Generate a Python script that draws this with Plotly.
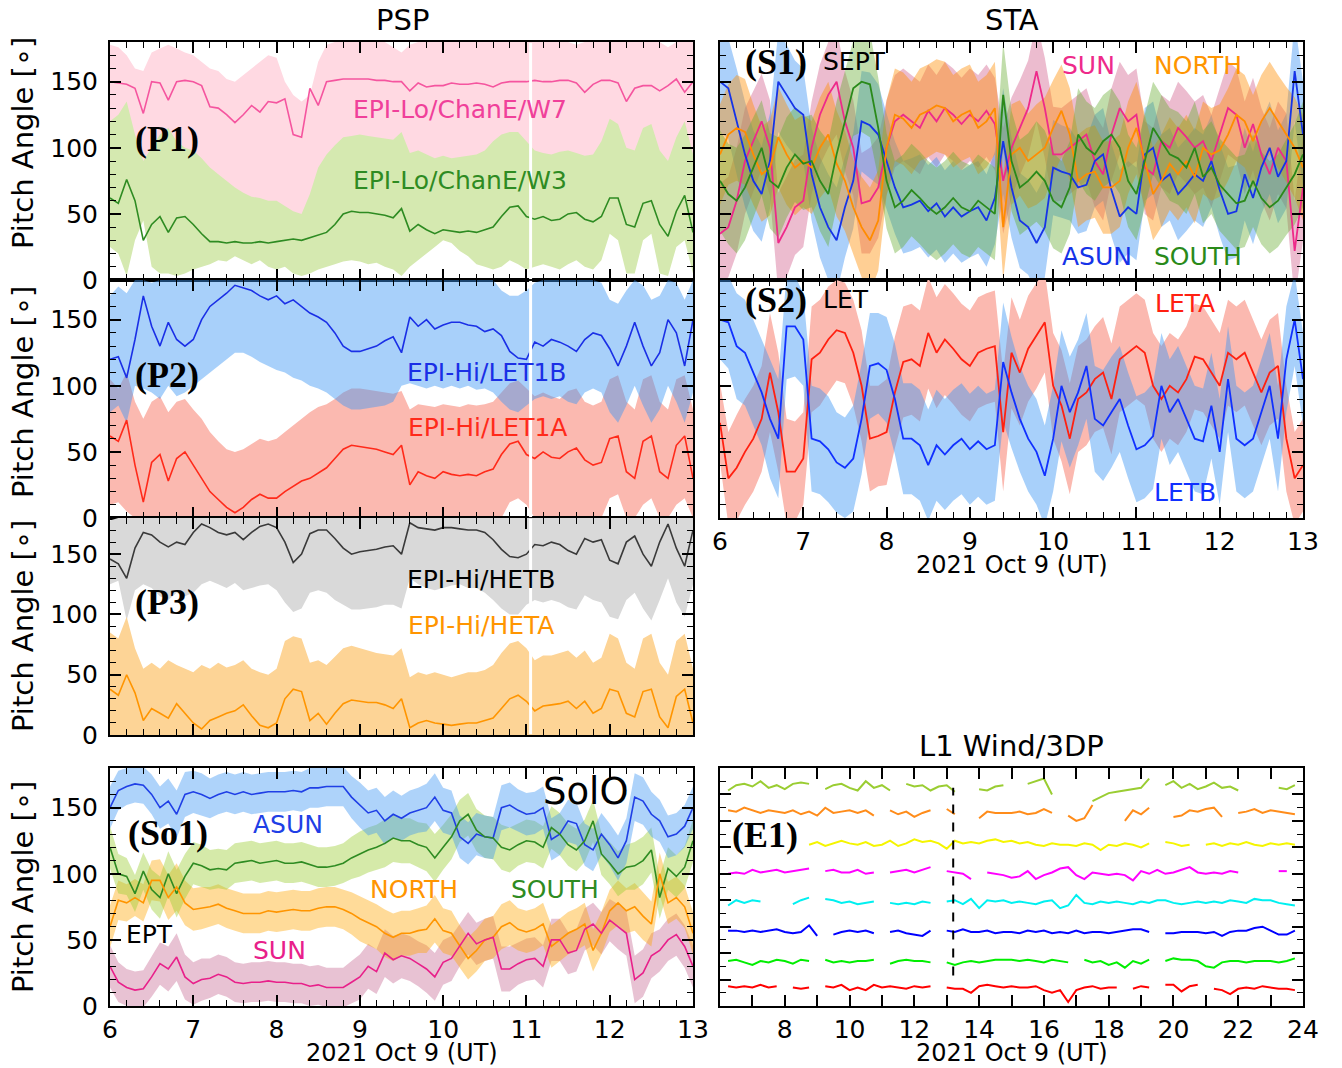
import numpy as np
import plotly.graph_objects as go

# ---------------- time grids ----------------
T = np.round(6 + 0.1 * np.arange(71), 2)          # 06:00 - 13:00 UT, 6-min cadence
TE = np.round(6.25 + 0.25 * np.arange(71), 2)      # Wind/3DP 06:15 - 23:45 UT
PSP_GAP_TIME = 11.05
EVENT_TIME_E1 = 13.2

# ---------------- PSP (P1) EPI-Lo ChanE ----------------
w7 = [150,149,148,145,126,150,149,136,150,151,
      150,147,131,130,125,119,125,132,127,135,
      134,137,110,108,145,132,150,151,152,152,
      152,152,151,151,150,150,143,149,146,147,
      147,149,148,148,149,148,146,149,150,150,
      150,151,150,150,151,151,149,142,148,151,
      151,149,135,145,147,147,143,147,152,142,
      150]
w7_hi = [178,176,170,160,158,172,175,178,175,172,
         170,165,160,158,152,150,155,160,165,170,
         168,150,140,135,140,165,178,180,180,180,
         180,180,180,180,176,172,178,180,180,180,
         180,180,180,180,180,180,180,180,180,180,
         180,180,180,180,180,180,178,180,180,180,
         180,180,180,180,180,180,180,176,180,180,
         180]
w7_lo = [90,95,100,95,80,85,90,92,88,85,
         80,75,70,66,62,60,58,57,56,55,
         55,53,50,48,50,60,75,85,90,92,
         95,95,94,92,92,95,88,90,88,86,
         86,86,86,88,90,92,95,98,100,98,
         95,90,88,88,90,90,88,86,88,95,
         100,98,92,90,98,100,90,85,95,100,
         88]
w3 = [62,58,76,60,30,42,48,36,47,48,
      42,35,29,29,28,29,28,28,29,28,
      29,30,31,30,32,34,36,42,50,52,
      51,51,50,49,47,54,37,42,38,35,
      38,37,36,37,36,38,40,48,55,56,
      48,46,48,45,46,50,51,46,44,48,
      62,62,42,40,58,60,42,33,52,64,
      36]
w3_hi = [120,125,135,110,90,100,110,115,105,100,
         98,92,85,80,75,70,66,63,62,60,
         60,56,52,50,65,85,95,102,108,109,
         110,109,108,107,106,112,96,98,95,92,
         94,92,93,94,95,98,105,110,112,112,
         105,98,96,95,97,98,96,94,95,105,
         122,118,100,98,115,118,98,90,108,120,
         95]
w3_lo = [25,20,3,30,45,10,5,5,3,5,
         8,10,12,15,14,18,15,12,15,10,
         8,10,5,3,5,8,10,12,14,15,
         14,12,13,10,8,3,10,15,20,25,
         30,28,22,18,12,10,8,10,15,12,
         8,10,12,10,8,12,15,10,8,15,
         35,30,5,5,30,35,5,3,25,30,
         5]

# ---------------- PSP (P2) EPI-Hi LET1 ----------------
let1b = [120,122,106,135,168,145,130,148,135,130,
         135,150,160,165,170,176,174,172,168,165,
         168,162,165,160,155,152,148,140,130,126,
         126,128,130,134,137,125,152,145,150,143,
         146,148,148,146,145,141,143,138,126,121,
         120,133,130,135,133,130,126,135,140,138,
         128,115,130,148,130,115,125,150,140,115,
         150]
let1b_hi = [168,175,170,180,180,178,180,180,180,180,
            180,180,180,180,180,180,180,180,180,180,
            180,180,180,180,180,180,180,180,180,180,
            180,180,180,180,180,180,180,180,180,180,
            180,180,180,180,180,180,180,172,168,168,
            172,178,180,180,180,180,180,180,180,178,
            165,162,172,180,176,165,168,180,178,165,
            180]
let1b_lo = [80,85,72,100,98,95,90,100,92,95,
            100,105,110,115,120,125,125,122,118,115,
            112,110,106,104,100,98,95,90,85,82,
            82,83,84,85,88,100,102,100,98,100,
            98,100,98,100,97,98,95,88,82,80,
            85,90,92,90,92,88,86,95,98,95,
            80,72,85,100,85,72,82,100,88,72,
            95]
let1a = [62,58,74,40,12,42,48,28,45,50,
         40,30,20,14,8,4,8,14,18,15,
         15,20,24,28,30,34,38,45,52,55,
         54,53,52,50,48,55,25,35,32,30,
         35,33,32,33,32,35,37,48,56,58,
         48,45,50,46,45,50,53,44,40,42,
         60,62,35,30,58,62,35,30,55,62,
         30]
let1a_hi = [105,98,110,88,75,88,92,80,88,90,
            82,75,65,58,52,50,52,56,60,58,
            60,65,70,75,80,84,86,90,95,98,
            98,97,96,95,94,96,82,86,85,84,
            86,85,84,86,85,86,88,95,102,104,
            98,92,95,92,90,96,98,88,85,88,
            105,108,88,82,105,108,88,82,105,108,
            82]
let1a_lo = [10,12,5,0,0,0,0,0,0,0,
            0,0,0,0,0,0,0,0,0,0,
            0,0,0,0,0,0,0,0,0,0,
            0,0,0,0,0,0,0,0,0,0,
            0,0,0,0,0,0,0,0,12,15,
            10,0,0,0,0,0,0,0,0,0,
            15,18,0,0,10,15,0,0,10,15,
            0]

# ---------------- PSP (P3) EPI-Hi HET ----------------
hetb = [146,142,130,155,168,166,160,156,160,158,
        168,175,172,168,166,168,162,168,173,175,
        172,160,143,150,167,170,170,163,155,150,
        152,153,154,156,157,150,176,172,171,170,
        172,172,171,170,170,168,162,154,148,147,
        150,158,157,160,158,153,150,163,160,162,
        145,142,160,165,150,140,160,175,155,140,
        170]
hetb_hi = [178,180,180,180,180,180,180,180,180,180,
           180,180,180,180,180,180,180,180,180,180,
           180,180,180,180,180,180,180,180,180,180,
           180,180,180,180,180,180,180,180,180,180,
           180,180,180,180,180,180,180,180,180,180,
           180,180,180,180,180,180,180,180,180,180,
           180,180,180,180,180,180,180,180,180,180,
           180]
hetb_lo = [125,128,95,120,125,122,115,112,118,115,
           118,125,128,125,122,126,120,122,124,125,
           120,110,102,105,118,120,118,112,108,104,
           104,105,106,108,108,105,130,125,122,120,
           122,124,125,122,122,118,112,105,100,100,
           108,112,110,112,110,106,104,116,112,110,
           98,96,112,118,105,95,112,130,110,98,
           125]
heta = [38,33,50,35,12,22,18,14,26,18,
        10,5,12,15,18,20,25,16,8,6,
        10,30,38,36,12,18,9,18,26,29,
        28,27,27,25,22,30,6,10,12,10,
        9,8,9,10,10,12,14,22,30,33,
        28,20,24,25,26,28,22,28,18,22,
        38,36,18,15,36,38,15,6,32,38,
        10]
heta_hi = [85,80,98,72,55,60,55,62,58,55,
           52,58,55,60,56,58,62,55,52,50,
           55,78,82,80,60,62,58,65,72,74,
           72,70,68,67,66,72,48,52,50,52,
           50,48,50,52,52,54,58,68,76,78,
           72,62,66,66,68,70,64,70,60,64,
           84,80,60,55,80,84,60,50,78,84,
           55]
heta_lo = [0,0,0,0,0,0,0,0,0,0,
           0,0,0,0,0,0,0,0,0,0,
           0,0,0,0,0,0,0,0,0,0,
           0,0,0,0,0,0,0,0,0,0,
           0,0,0,0,0,0,0,0,0,0,
           0,0,0,0,0,0,0,0,0,0,
           0,0,0,0,0,0,0,0,0,0,
           0]

# ---------------- SolO EPT (So1) ----------------
so_asun = [150,163,166,168,167,160,150,155,145,160,
           162,160,157,160,162,160,162,160,161,162,
           162,162,163,162,165,165,166,166,166,158,
           152,146,148,140,145,142,146,148,150,158,
           148,146,128,123,130,128,127,150,152,148,
           145,146,150,126,130,140,138,122,118,130,
           122,112,125,158,155,145,140,128,130,136,
           150]
so_south = [120,100,98,85,102,88,82,100,85,98,
            108,106,103,104,103,108,109,110,108,109,
            110,108,108,109,107,105,105,106,108,112,
            115,118,120,123,127,125,125,122,120,112,
            120,128,140,145,133,128,127,120,118,122,
            125,124,120,135,130,122,118,125,140,115,
            108,100,105,106,110,118,82,104,98,105,
            125]
so_north = [60,80,78,82,78,95,95,82,90,78,
            73,74,75,77,74,72,70,70,70,72,
            71,72,73,72,72,74,75,75,73,70,
            66,63,60,55,52,55,55,57,58,66,
            57,55,45,36,42,50,52,60,63,58,
            56,58,62,45,50,55,58,62,42,55,
            72,78,72,75,68,62,100,78,82,75,
            55]
so_sun = [30,18,14,12,13,22,32,28,37,22,
          17,20,21,24,22,18,17,18,18,19,
          18,18,17,17,15,16,14,14,14,18,
          22,30,26,40,35,38,36,32,28,22,
          33,36,46,55,47,50,52,28,28,32,
          35,36,30,50,50,40,42,58,62,55,
          65,60,55,20,25,38,42,50,54,45,
          30]
so_spread = [16,15,14,14,14,15,16,17,18,17,
             16,16,15,15,15,15,15,15,15,15,
             15,15,15,15,15,15,15,15,15,16,
             17,17,17,18,18,17,17,17,18,18,
             17,17,16,16,16,16,16,17,17,16,
             16,16,16,16,16,16,16,16,16,16,
             16,17,17,18,18,17,16,16,16,16,
             16]

# ---------------- STA SEPT (S1) ----------------
s1_asun = [150,145,120,95,75,65,90,150,140,130,
           125,80,55,40,30,55,75,120,117,110,
           90,70,55,57,60,52,58,48,55,48,
           52,55,45,62,105,70,45,40,28,40,
           85,82,80,70,72,90,95,68,48,55,
           50,95,100,75,80,65,72,80,75,90,
           68,50,52,80,62,85,100,78,90,158,
           110]
s1_sun = [35,40,60,90,105,120,100,28,40,55,
          60,100,125,140,150,120,100,58,60,70,
          100,120,125,120,115,128,120,130,125,118,
          125,120,128,118,75,100,115,130,158,130,
          95,95,100,105,110,90,80,110,130,120,
          125,85,80,105,100,115,108,100,105,90,
          110,130,125,100,118,95,80,100,90,22,
          70]
s1_north = [95,110,115,112,95,80,85,108,95,85,
            90,85,100,110,88,75,55,40,30,45,
            100,125,122,115,125,128,132,130,120,125,
            128,115,120,130,40,95,100,90,95,100,
            115,128,110,75,80,82,70,70,75,100,
            115,90,65,75,88,80,90,78,100,95,
            98,110,125,120,105,120,130,120,110,100,
            85]
s1_south = [75,65,60,70,85,100,75,70,85,95,
            88,90,75,65,95,120,145,150,148,115,
            75,55,60,68,62,55,50,55,62,55,
            52,60,55,50,140,90,70,75,82,75,
            60,55,70,110,100,95,105,110,100,75,
            65,90,115,105,95,92,85,100,78,85,
            72,65,58,60,75,62,55,60,70,80,
            95]
s1_spread = [38,38,40,40,38,36,36,38,38,36,
             35,35,38,40,40,38,36,38,40,38,
             36,35,35,35,35,35,35,35,35,35,
             35,35,35,35,40,38,36,36,38,38,
             36,35,35,35,35,35,35,35,35,35,
             35,35,35,35,35,35,35,35,35,35,
             35,35,35,35,35,35,35,35,36,38,
             40]

# ---------------- STA LET (S2) ----------------
s2_leta = [72,30,38,50,60,75,110,80,35,35,
           45,120,125,135,142,140,125,100,60,62,
           65,95,118,120,115,140,125,135,128,120,
           115,125,128,130,65,125,110,128,138,148,
           100,85,60,90,95,105,110,90,120,125,
           130,125,100,90,100,95,105,122,120,110,
           100,125,120,125,110,95,110,115,60,30,
           40]
s2_letb = [150,148,130,125,110,95,75,60,145,145,
           135,60,58,52,42,38,45,75,115,117,
           112,90,60,60,55,40,55,48,55,60,
           52,58,52,55,118,95,75,60,50,32,
           60,100,80,95,115,75,70,80,90,70,
           52,55,62,100,80,90,75,60,58,85,
           50,105,60,55,60,80,100,60,120,150,
           105]
s2_spread = [30,35,40,40,40,40,45,45,40,38,
             35,40,40,40,38,38,40,42,40,38,
             40,42,42,42,42,42,42,42,42,42,
             42,42,42,42,45,42,40,40,40,38,
             40,42,42,40,40,40,42,42,40,40,
             40,40,40,40,40,40,40,40,40,40,
             40,40,40,40,40,40,40,40,40,35,
             35]

# ---------------- L1 Wind/3DP (E1), 8 energy channels ----------------
N = None
e_lime = [163,167,168,
          166,170,165,167, 164,168,169,168, N,164,167,168, 165,163,170,165,
          167,163,N,168, 166,167,163,166, 167,162,N,N, 164,163,166,167,
          N,N,168,170, 172,160,N,N, N,N,155,158, 161,162,163,164,
          165,172,N,167, 170,165,168,164, 166,169,165,166, 163,N,N,N,
          N,165,164,167]
e_orange = [148,147,150,
            148,146,148,147, 146,148,145,147, 144,150,146,147, 148,146,148,144,
            N,148,145,147, 143,146,148,N, 149,145,N,N, 142,147,146,146,
            146,147,145,146, 149,146,N,144, 140,142,152,N, N,N,140,148,
            145,150,N,N, 143,144,148,147, 149,150,143,N, 146,147,149,146,
            148,147,146,145]
e_yellow = [N,N,N,
            N,N,N,N, N,N,N,122, 124,121,123,125, 123,122,124,121,
            122,125,121,123, 126,124,125,123, 119,125,123,124, 123,125,126,124,
            125,123,124,122, 121,123,122,122, 121,123,122,118, 122,121,123,122,
            120,123,N,124, 123,121,122,N, 122,123,121,123, 122,124,122,121,
            123,122,123,122]
e_magenta = [100,101,100,
             103,101,102,103, 101,102,103,104, N,102,103,101, 101,103,100,101,
             N,101,102,103, 101,103,105,N, 102,101,100,96, N,101,100,99,
             97,98,102,96, 99,101,104,105, 99,96,101,100, 99,100,99,95,
             102,100,103,100, 101,103,105,101, 100,101,100,102, 101,N,N,N,
             N,102,102,N]
e_cyan = [76,80,78,
          80,79,N,N, N,77,80,82, N,81,80,78, 79,77,78,79,
          N,78,77,78, 77,79,78,N, 79,80,77,81, 74,80,79,80,
          78,79,78,77, 79,80,74,76, 84,78,77,79, 78,79,78,77,
          79,78,80,80, 78,77,78,79, 78,79,78,80, 79,78,81,80,
          80,78,77,76]
e_blue = [57,57,56,
          57,56,57,58, 56,55,56,61, 53,N,54,56, 57,56,57,55,
          N,56,57,55, 54,53,57,N, 57,56,58,56, 56,57,55,56,
          56,55,57,56, 57,55,56,55, 57,55,56,56, 55,56,57,58,
          58,56,N,55, 55,56,56,56, 55,56,53,56, 57,57,59,60,
          57,54,54,57]
e_green = [34,35,33,
           31,34,33,35, 34,32,35,34, N,35,33,34, 33,34,34,35,
           N,32,34,35, 34,34,33,N, 33,31,33,34, 33,34,35,35,
           35,34,35,34, 33,35,34,33, N,35,33,34, 31,33,29,34,
           32,35,N,34, 36,35,35,34, 30,29,33,34, 34,33,34,34,
           34,33,34,36]
e_red = [15,14,15,
         14,16,14,15, N,14,13,14, N,15,14,16, 12,14,12,16,
         14,15,14,13, 15,14,15,N, 14,13,13,10, 15,16,15,14,
         15,14,14,15, 12,10,12,3, 12,14,15,13, 14,14,N,13,
         15,14,N,16, 16,11,15,16, N,13,12,9, 13,14,13,15,
         14,13,13,12]

for _name, _arr in [
    ("w7", w7), ("w7_hi", w7_hi), ("w7_lo", w7_lo), ("w3", w3), ("w3_hi", w3_hi),
    ("w3_lo", w3_lo), ("let1b", let1b), ("let1b_hi", let1b_hi), ("let1b_lo", let1b_lo),
    ("let1a", let1a), ("let1a_hi", let1a_hi), ("let1a_lo", let1a_lo), ("hetb", hetb),
    ("hetb_hi", hetb_hi), ("hetb_lo", hetb_lo), ("heta", heta), ("heta_hi", heta_hi),
    ("heta_lo", heta_lo), ("so_asun", so_asun), ("so_south", so_south),
    ("so_north", so_north), ("so_sun", so_sun), ("so_spread", so_spread),
    ("s1_asun", s1_asun), ("s1_sun", s1_sun), ("s1_north", s1_north),
    ("s1_south", s1_south), ("s1_spread", s1_spread), ("s2_leta", s2_leta),
    ("s2_letb", s2_letb), ("s2_spread", s2_spread), ("e_lime", e_lime),
    ("e_orange", e_orange), ("e_yellow", e_yellow), ("e_magenta", e_magenta),
    ("e_cyan", e_cyan), ("e_blue", e_blue), ("e_green", e_green), ("e_red", e_red)]:
    if len(_arr) != 71:
        raise ValueError(f"{_name} has length {len(_arr)}")

# ---------------- figure geometry ----------------
W, H = 1342, 1068
FONT = "DejaVu Sans"
SERIF = "Liberation Serif"


def px(x):
    return x / W


def py(y):
    return 1 - y / H


fig = go.Figure()


def band(ax, x, lo, hi, color):
    xs = list(x) + list(x[::-1])
    ys = list(hi) + list(lo[::-1])
    fig.add_trace(go.Scatter(x=xs, y=ys, fill="toself", fillcolor=color, mode="lines",
                             line=dict(width=0), hoverinfo="skip", showlegend=False,
                             xaxis="x" + ax, yaxis="y" + ax))


def sband(ax, x, mean, spread, color):
    lo = [m - s for m, s in zip(mean, spread)]
    hi = [m + s for m, s in zip(mean, spread)]
    band(ax, x, lo, hi, color)


def line(ax, x, y, color, width=1.6):
    fig.add_trace(go.Scatter(x=list(x), y=list(y), mode="lines",
                             line=dict(color=color, width=width), connectgaps=False,
                             showlegend=False, xaxis="x" + ax, yaxis="y" + ax))


# P1
band("", T, w7_lo, w7_hi, "#ffd9e2")
band("", T, w3_lo, w3_hi, "#d5e9b0")
line("", T, w7, "#f5559f")
line("", T, w3, "#2e8b22")
# P2
band("2", T, let1a_lo, let1a_hi, "#fbb9b0")
band("2", T, let1b_lo, let1b_hi, "rgba(62,151,244,0.45)")
line("2", T, let1b, "#1a2fe6")
line("2", T, let1a, "#ff2a1a")
# P3
band("3", T, hetb_lo, hetb_hi, "#d9d9d9")
band("3", T, heta_lo, heta_hi, "#fdd496")
line("3", T, hetb, "#3a3a3a")
line("3", T, heta, "#ff9500")
# So1
sband("4", T, so_sun, so_spread, "rgba(190,80,130,0.35)")
sband("4", T, so_north, so_spread, "rgba(255,165,0,0.40)")
sband("4", T, so_south, so_spread, "rgba(154,205,50,0.42)")
sband("4", T, so_asun, so_spread, "rgba(62,151,244,0.42)")
line("4", T, so_asun, "#1f3fe6")
line("4", T, so_south, "#2e8b22")
line("4", T, so_north, "#ff9500")
line("4", T, so_sun, "#e8208a")
# S1
sband("5", T, s1_sun, s1_spread, "rgba(205,80,130,0.38)")
sband("5", T, s1_asun, s1_spread, "rgba(55,144,244,0.42)")
sband("5", T, s1_north, s1_spread, "rgba(255,140,0,0.42)")
sband("5", T, s1_south, s1_spread, "rgba(100,170,45,0.40)")
line("5", T, s1_sun, "#ee2a8a", 1.8)
line("5", T, s1_asun, "#1533e8", 1.8)
line("5", T, s1_north, "#ff8c00", 1.8)
line("5", T, s1_south, "#2a8a1a", 1.8)
# S2
sband("6", T, s2_leta, s2_spread, "#fbb9b0")
sband("6", T, s2_letb, s2_spread, "rgba(62,151,244,0.45)")
line("6", T, s2_leta, "#ff2010", 1.8)
line("6", T, s2_letb, "#1030ff", 1.8)
# E1
for arr, col in [(e_lime, "#9acd32"), (e_orange, "#ff8c1a"), (e_yellow, "#f5f500"),
                 (e_magenta, "#ff00ff"), (e_cyan, "#00f0f0"), (e_blue, "#0000ff"),
                 (e_green, "#00ee00"), (e_red, "#ff0000")]:
    line("7", TE, arr, col, 2.0)

# white data-gap line in PSP panels and event marker in E1
for ax in ["", "2", "3"]:
    fig.add_shape(type="line", x0=PSP_GAP_TIME, x1=PSP_GAP_TIME, y0=0.004, y1=0.996,
                  xref="x" + ax, yref=("y" + ax + " domain"), line=dict(color="white", width=3))
fig.add_shape(type="line", x0=EVENT_TIME_E1, x1=EVENT_TIME_E1, y0=23, y1=165,
              xref="x7", yref="y7", line=dict(color="black", width=2, dash="dash"))

# ---------------- axes ----------------
LX = [px(110), px(693)]
RX = [px(720), px(1303)]


def ydom(top, bot):
    return [py(bot), py(top)]


panels = {
    "": (LX, ydom(42, 280)),
    "2": (LX, ydom(280, 518)),
    "3": (LX, ydom(518, 735)),
    "4": (LX, ydom(768, 1006)),
    "5": (RX, ydom(42, 280)),
    "6": (RX, ydom(280, 518)),
    "7": (RX, ydom(768, 1006)),
}
tickfont = dict(family=FONT, size=25, color="black")
common = dict(showline=True, linewidth=2, linecolor="black", mirror="allticks",
              ticks="inside", tickcolor="black", tickwidth=1.5, showgrid=False,
              zeroline=False, automargin=False, tickfont=tickfont)

layout_axes = {}
for ax, (xd, yd) in panels.items():
    xkey = "xaxis" + ax
    ykey = "yaxis" + ax
    if ax == "7":
        xa = dict(common, domain=xd, anchor="y7", range=[6, 24],
                  tickvals=list(range(7, 25)),
                  ticktext=[str(v) if v % 2 == 0 else "" for v in range(7, 25)],
                  ticklen=11, ticklabelstandoff=0)
        ya = dict(common, domain=yd, anchor="x7", range=[0, 180], dtick=20, tick0=0,
                  ticklen=11, showticklabels=False,
                  minor=dict(ticks="inside", dtick=10, tick0=0, ticklen=6,
                             tickcolor="black", tickwidth=1.2))
    else:
        xa = dict(common, domain=xd, anchor="y" + ax, range=[6, 13], dtick=1, tick0=6,
                  ticklen=11, showticklabels=ax in ("4", "6"), ticklabelstandoff=0,
                  minor=dict(ticks="inside", dtick=0.2, tick0=6, ticklen=6,
                             tickcolor="black", tickwidth=1.2))
        ya = dict(common, domain=yd, anchor="x" + ax, range=[0, 180],
                  tickvals=[0, 50, 100, 150], ticklen=11,
                  showticklabels=ax in ("", "2", "3", "4"), ticklabelstandoff=5,
                  minor=dict(ticks="inside", dtick=10, tick0=0, ticklen=6,
                             tickcolor="black", tickwidth=1.2))
    layout_axes[xkey] = xa
    layout_axes[ykey] = ya

# ---------------- text ----------------
ann = []


def txt(x, y, s, color="black", size=25, xref="paper", yref="paper", family=FONT, angle=0):
    ann.append(dict(x=x, y=y, text=s, xref=xref, yref=yref, showarrow=False,
                    textangle=angle, xanchor="center", yanchor="middle",
                    font=dict(family=family, size=size, color=color)))


txt(px(402), py(20), "PSP", size=29)
txt(px(1012), py(20), "STA", size=29)
txt(px(1012), py(746), "L1 Wind/3DP", size=29)
txt(px(402), py(1053), "2021 Oct 9 (UT)", size=24)
txt(px(1012), py(565), "2021 Oct 9 (UT)", size=24)
txt(px(1012), py(1053), "2021 Oct 9 (UT)", size=24)
for yc in (143, 392, 626, 887):
    txt(px(23), py(yc), "Pitch Angle [∘]", size=29, angle=-90)

# panel labels
for ax, x, y, s in [("", 6.69, 107, "(P1)"), ("2", 6.69, 108, "(P2)"), ("3", 6.69, 110, "(P3)"),
                    ("4", 6.7, 131, "(So1)"), ("5", 6.67, 165, "(S1)"), ("6", 6.67, 165, "(S2)"),
                    ("7", 7.38, 129, "(E1)")]:
    txt(x, y, "<b>" + s + "</b>", size=36, xref="x" + ax, yref="y" + ax, family=SERIF)

# series labels
txt(10.2, 128.6, "EPI-Lo/ChanE/W7", "#f0409a", xref="x", yref="y")
txt(10.2, 75.6, "EPI-Lo/ChanE/W3", "#2e8b22", xref="x", yref="y")
txt(10.53, 110, "EPI-Hi/LET1B", "#1a2fe6", xref="x2", yref="y2")
txt(10.53, 68.8, "EPI-Hi/LET1A", "#ff2a1a", xref="x2", yref="y2")
txt(10.45, 129, "EPI-Hi/HETB", "black", xref="x3", yref="y3")
txt(10.45, 90.5, "EPI-Hi/HETA", "#ff9500", xref="x3", yref="y3")
txt(11.71, 162, "SolO", "black", size=37, xref="x4", yref="y4")
txt(8.14, 137, "ASUN", "#1f3fe6", xref="x4", yref="y4")
txt(9.65, 88, "NORTH", "#ff9500", xref="x4", yref="y4")
txt(11.34, 88, "SOUTH", "#2e8b22", xref="x4", yref="y4")
txt(6.48, 54, "EPT", "black", xref="x4", yref="y4")
txt(8.04, 42, "SUN", "#e8208a", xref="x4", yref="y4")
txt(7.62, 165, "SEPT", "black", xref="x5", yref="y5")
txt(10.42, 162, "SUN", "#ee2a8a", xref="x5", yref="y5")
txt(11.74, 162, "NORTH", "#ff9500", xref="x5", yref="y5")
txt(10.53, 17.4, "ASUN", "#1533e8", xref="x5", yref="y5")
txt(11.74, 17.4, "SOUTH", "#2a8a1a", xref="x5", yref="y5")
txt(7.51, 165, "LET", "black", xref="x6", yref="y6")
txt(11.58, 162, "LETA", "#ff2010", xref="x6", yref="y6")
txt(11.58, 19, "LETB", "#1030ff", xref="x6", yref="y6")

fig.update_layout(width=W, height=H, margin=dict(l=0, r=0, t=0, b=0),
                  paper_bgcolor="white", plot_bgcolor="white", showlegend=False,
                  font=dict(family=FONT), annotations=ann, **layout_axes)

# remove the browser's default 8 px body margin so the figure fills the window exactly
fig.write_html("out.html", config={"displayModeBar": False},
               post_script="document.body.style.margin='0';document.body.style.overflow='hidden';")
